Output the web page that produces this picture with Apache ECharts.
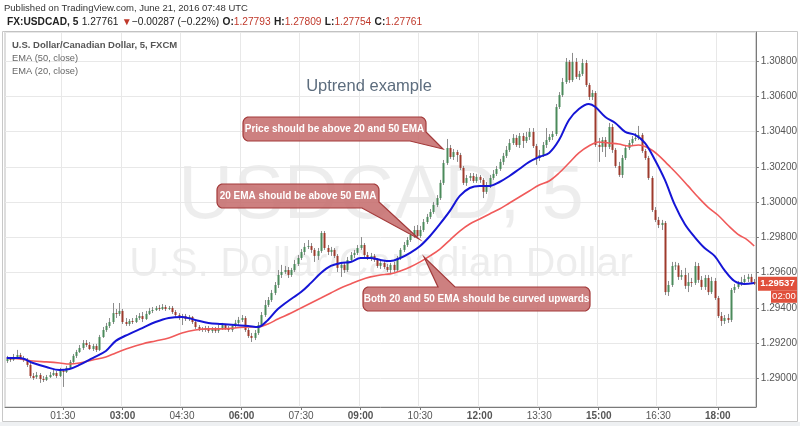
<!DOCTYPE html>
<html><head><meta charset="utf-8">
<script src="https://cdn.jsdelivr.net/npm/echarts@6/dist/echarts.min.js"></script>
<style>html,body{margin:0;padding:0;background:#fff;}#c{width:800px;height:426px;}</style>
</head><body><div id="c"></div>
<script>
// ---- data (USDCAD 5-minute bars) ----
const firstBarMinute = 5;   // 00:05
const barStepMinutes = 5;
const xTickLabels = ['01:30','03:00','04:30','06:00','07:30','09:00','10:30','12:00','13:30','15:00','16:30','18:00'];

const opens = [1.29099,1.29111,1.29105,1.29122,1.29133,1.29116,1.29105,1.29077,1.29014,1.29008,
1.29020,1.28997,1.28992,1.29008,1.29020,1.29031,1.29014,1.29043,1.29037,1.29060,
1.29094,1.29128,1.29150,1.29173,1.29201,1.29190,1.29167,1.29184,1.29162,1.29235,
1.29275,1.29298,1.29320,1.29371,1.29366,1.29383,1.29320,1.29309,1.29326,1.29320,
1.29343,1.29354,1.29337,1.29366,1.29383,1.29388,1.29400,1.29394,1.29405,1.29394,
1.29400,1.29377,1.29360,1.29349,1.29354,1.29337,1.29349,1.29320,1.29292,1.29281,
1.29275,1.29286,1.29269,1.29281,1.29269,1.29286,1.29303,1.29286,1.29275,1.29298,
1.29315,1.29332,1.29343,1.29275,1.29241,1.29230,1.29258,1.29303,1.29360,1.29417,
1.29445,1.29485,1.29530,1.29587,1.29604,1.29615,1.29587,1.29615,1.29649,1.29683,
1.29717,1.29746,1.29751,1.29729,1.29695,1.29723,1.29825,1.29740,1.29717,1.29729,
1.29695,1.29627,1.29644,1.29615,1.29672,1.29700,1.29712,1.29740,1.29757,1.29700,
1.29683,1.29695,1.29672,1.29638,1.29655,1.29632,1.29615,1.29644,1.29615,1.29683,
1.29729,1.29757,1.29785,1.29814,1.29842,1.29808,1.29842,1.29887,1.29916,1.29944,
1.29984,1.30023,1.30109,1.30222,1.30307,1.30256,1.30284,1.30267,1.30194,1.30109,
1.30137,1.30148,1.30120,1.30143,1.30126,1.30058,1.30097,1.30137,1.30160,1.30188,
1.30228,1.30262,1.30296,1.30335,1.30364,1.30324,1.30375,1.30347,1.30369,1.30398,
1.30318,1.30250,1.30267,1.30324,1.30352,1.30369,1.30386,1.30539,1.30607,1.30681,
1.30795,1.30692,1.30795,1.30710,1.30727,1.30789,1.30664,1.30596,1.30619,1.30324,
1.30313,1.30352,1.30313,1.30426,1.30296,1.30205,1.30154,1.30250,1.30307,1.30335,
1.30358,1.30364,1.30381,1.30290,1.30250,1.30137,1.29955,1.29899,1.29870,1.29882,
1.29490,1.29530,1.29638,1.29641,1.29576,1.29587,1.29525,1.29547,1.29542,1.29638,
1.29559,1.29519,1.29570,1.29490,1.29553,1.29456,1.29354,1.29326,1.29343,1.29332,
1.29502,1.29519,1.29536,1.29547,1.29564,1.29576,1.29547];

const closes = [1.29111,1.29105,1.29122,1.29133,1.29116,1.29105,1.29077,1.29014,1.29003,1.29020,
1.28997,1.28992,1.29008,1.29020,1.29031,1.29014,1.29043,1.29037,1.29060,1.29094,
1.29128,1.29150,1.29173,1.29201,1.29190,1.29167,1.29184,1.29162,1.29235,1.29275,
1.29298,1.29320,1.29371,1.29366,1.29383,1.29320,1.29309,1.29326,1.29320,1.29343,
1.29354,1.29337,1.29366,1.29383,1.29388,1.29400,1.29394,1.29405,1.29394,1.29400,
1.29377,1.29360,1.29349,1.29354,1.29337,1.29349,1.29320,1.29292,1.29281,1.29275,
1.29286,1.29269,1.29281,1.29269,1.29286,1.29303,1.29286,1.29275,1.29298,1.29315,
1.29332,1.29343,1.29275,1.29241,1.29230,1.29258,1.29303,1.29360,1.29417,1.29445,
1.29485,1.29530,1.29587,1.29604,1.29615,1.29587,1.29615,1.29649,1.29683,1.29717,
1.29746,1.29751,1.29729,1.29695,1.29723,1.29825,1.29740,1.29717,1.29729,1.29695,
1.29627,1.29644,1.29615,1.29672,1.29700,1.29712,1.29740,1.29757,1.29700,1.29683,
1.29695,1.29672,1.29638,1.29655,1.29632,1.29615,1.29644,1.29615,1.29683,1.29729,
1.29757,1.29785,1.29814,1.29842,1.29808,1.29842,1.29887,1.29916,1.29944,1.29984,
1.30023,1.30109,1.30222,1.30307,1.30256,1.30284,1.30267,1.30194,1.30109,1.30137,
1.30148,1.30120,1.30143,1.30126,1.30058,1.30097,1.30137,1.30160,1.30188,1.30228,
1.30262,1.30296,1.30335,1.30364,1.30324,1.30375,1.30347,1.30369,1.30398,1.30318,
1.30250,1.30267,1.30324,1.30352,1.30369,1.30386,1.30539,1.30607,1.30681,1.30795,
1.30692,1.30795,1.30710,1.30727,1.30789,1.30664,1.30596,1.30619,1.30324,1.30313,
1.30352,1.30313,1.30426,1.30296,1.30205,1.30154,1.30250,1.30307,1.30335,1.30358,
1.30364,1.30381,1.30290,1.30250,1.30137,1.29955,1.29899,1.29870,1.29882,1.29490,
1.29530,1.29638,1.29641,1.29576,1.29587,1.29525,1.29547,1.29542,1.29638,1.29559,
1.29519,1.29570,1.29490,1.29553,1.29456,1.29354,1.29326,1.29343,1.29332,1.29502,
1.29519,1.29536,1.29547,1.29564,1.29576,1.29547,1.29537];

const lows = [1.29088,1.29094,1.29099,1.29116,1.29105,1.29094,1.29065,1.29003,1.28992,1.28997,
1.28975,1.28980,1.28986,1.29003,1.29014,1.29003,1.29008,1.28952,1.29031,1.29054,
1.29088,1.29116,1.29145,1.29162,1.29179,1.29162,1.29156,1.29150,1.29156,1.29230,
1.29264,1.29286,1.29309,1.29343,1.29354,1.29309,1.29298,1.29298,1.29309,1.29315,
1.29332,1.29320,1.29332,1.29360,1.29371,1.29383,1.29383,1.29388,1.29383,1.29388,
1.29366,1.29349,1.29332,1.29303,1.29326,1.29326,1.29309,1.29281,1.29269,1.29264,
1.29264,1.29258,1.29258,1.29258,1.29258,1.29275,1.29275,1.29264,1.29264,1.29286,
1.29303,1.29320,1.29264,1.29230,1.29207,1.29218,1.29247,1.29292,1.29349,1.29405,
1.29434,1.29473,1.29513,1.29570,1.29593,1.29570,1.29576,1.29604,1.29638,1.29672,
1.29700,1.29734,1.29712,1.29661,1.29672,1.29712,1.29729,1.29700,1.29695,1.29683,
1.29604,1.29576,1.29598,1.29604,1.29661,1.29683,1.29700,1.29729,1.29689,1.29672,
1.29666,1.29661,1.29627,1.29621,1.29621,1.29604,1.29598,1.29604,1.29604,1.29672,
1.29717,1.29746,1.29774,1.29797,1.29797,1.29797,1.29831,1.29876,1.29904,1.29933,
1.29972,1.30012,1.30097,1.30211,1.30245,1.30239,1.30228,1.30182,1.30097,1.30092,
1.30120,1.30109,1.30109,1.30109,1.30023,1.30046,1.30080,1.30126,1.30148,1.30177,
1.30211,1.30250,1.30284,1.30324,1.30313,1.30307,1.30307,1.30335,1.30352,1.30307,
1.30211,1.30233,1.30256,1.30307,1.30341,1.30352,1.30375,1.30528,1.30596,1.30670,
1.30676,1.30681,1.30698,1.30692,1.30715,1.30653,1.30579,1.30579,1.30313,1.30228,
1.30284,1.30256,1.30301,1.30279,1.30194,1.30143,1.30137,1.30239,1.30296,1.30324,
1.30347,1.30352,1.30279,1.30239,1.30126,1.29944,1.29887,1.29853,1.29842,1.29473,
1.29468,1.29519,1.29615,1.29559,1.29559,1.29508,1.29490,1.29519,1.29530,1.29542,
1.29502,1.29502,1.29473,1.29479,1.29445,1.29343,1.29298,1.29309,1.29315,1.29320,
1.29485,1.29508,1.29525,1.29536,1.29547,1.29536,1.29530];

const highs = [1.29128,1.29122,1.29139,1.29162,1.29145,1.29128,1.29116,1.29088,1.29031,1.29037,
1.29031,1.29014,1.29020,1.29037,1.29048,1.29043,1.29060,1.29054,1.29071,1.29105,
1.29139,1.29162,1.29190,1.29218,1.29218,1.29207,1.29196,1.29196,1.29247,1.29292,
1.29315,1.29343,1.29428,1.29394,1.29428,1.29394,1.29343,1.29337,1.29343,1.29360,
1.29371,1.29377,1.29383,1.29400,1.29405,1.29411,1.29417,1.29422,1.29417,1.29411,
1.29411,1.29388,1.29371,1.29366,1.29366,1.29360,1.29354,1.29332,1.29303,1.29292,
1.29298,1.29298,1.29292,1.29292,1.29303,1.29315,1.29309,1.29298,1.29309,1.29332,
1.29349,1.29360,1.29354,1.29286,1.29258,1.29275,1.29320,1.29377,1.29445,1.29462,
1.29502,1.29547,1.29615,1.29644,1.29638,1.29632,1.29627,1.29672,1.29700,1.29734,
1.29768,1.29785,1.29768,1.29740,1.29740,1.29836,1.29836,1.29757,1.29746,1.29740,
1.29706,1.29661,1.29655,1.29689,1.29717,1.29729,1.29757,1.29802,1.29768,1.29717,
1.29712,1.29706,1.29683,1.29666,1.29666,1.29649,1.29655,1.29661,1.29695,1.29740,
1.29774,1.29802,1.29831,1.29865,1.29870,1.29865,1.29904,1.29933,1.29961,1.30001,
1.30040,1.30126,1.30239,1.30358,1.30324,1.30301,1.30296,1.30279,1.30205,1.30154,
1.30165,1.30165,1.30160,1.30154,1.30137,1.30114,1.30154,1.30182,1.30205,1.30245,
1.30279,1.30318,1.30358,1.30386,1.30381,1.30392,1.30392,1.30398,1.30420,1.30420,
1.30330,1.30296,1.30341,1.30420,1.30386,1.30403,1.30556,1.30624,1.30704,1.30817,
1.30806,1.30846,1.30817,1.30744,1.30812,1.30806,1.30676,1.30636,1.30630,1.30364,
1.30369,1.30369,1.30449,1.30443,1.30307,1.30228,1.30267,1.30324,1.30352,1.30375,
1.30392,1.30432,1.30392,1.30301,1.30262,1.30148,1.29972,1.29916,1.29899,1.29893,
1.29553,1.29661,1.29661,1.29655,1.29615,1.29627,1.29598,1.29570,1.29661,1.29655,
1.29581,1.29587,1.29587,1.29576,1.29570,1.29468,1.29377,1.29360,1.29366,1.29513,
1.29536,1.29553,1.29576,1.29587,1.29593,1.29593,1.29564];

const ema20Points = [[0,1.29116],[4,1.29116],[8,1.29088],[12,1.29065],[16,1.29048],[19,1.29054],[22,1.29077],[26,1.29116],[30,1.29156],[33,1.29213],[37,1.29252],[41,1.29286],[45,1.29320],[49,1.29343],[53,1.29349],[57,1.29332],[61,1.29315],[65,1.29309],[69,1.29303],[73,1.29298],[76,1.29292],[79,1.29332],[82,1.29394],[86,1.29451],[89,1.29490],[92,1.29542],[95,1.29598],[98,1.29638],[101,1.29655],[104,1.29661],[107,1.29683],[110,1.29683],[113,1.29672],[116,1.29666],[119,1.29683],[122,1.29712],[125,1.29751],[128,1.29808],[131,1.29876],[134,1.29950],[137,1.30035],[140,1.30080],[143,1.30092],[146,1.30092],[149,1.30114],[152,1.30148],[155,1.30188],[158,1.30228],[161,1.30256],[164,1.30279],[167,1.30352],[170,1.30466],[173,1.30528],[176,1.30556],[178,1.30539],[181,1.30483],[184,1.30449],[187,1.30398],[190,1.30381],[193,1.30335],[196,1.30239],[199,1.30126],[202,1.29984],[205,1.29876],[208,1.29802],[211,1.29740],[214,1.29695],[217,1.29615],[220,1.29553],[223,1.29536],[226,1.29542]];
const ema50Points = [[0,1.29116],[4,1.29111],[8,1.29099],[12,1.29094],[16,1.29088],[19,1.29082],[22,1.29088],[26,1.29105],[30,1.29122],[33,1.29145],[37,1.29173],[41,1.29196],[45,1.29213],[49,1.29230],[53,1.29258],[57,1.29275],[61,1.29281],[65,1.29281],[69,1.29286],[73,1.29292],[76,1.29292],[79,1.29309],[82,1.29337],[86,1.29371],[89,1.29400],[92,1.29428],[95,1.29456],[98,1.29485],[101,1.29513],[104,1.29536],[107,1.29559],[110,1.29576],[113,1.29587],[116,1.29593],[119,1.29610],[122,1.29632],[125,1.29661],[128,1.29695],[131,1.29734],[134,1.29785],[137,1.29836],[140,1.29876],[143,1.29904],[146,1.29933],[149,1.29961],[152,1.29995],[155,1.30029],[158,1.30063],[161,1.30097],[164,1.30120],[167,1.30165],[170,1.30222],[173,1.30279],[176,1.30318],[179,1.30341],[182,1.30335],[185,1.30330],[188,1.30318],[191,1.30324],[194,1.30307],[197,1.30267],[200,1.30211],[203,1.30154],[206,1.30092],[209,1.30029],[212,1.29972],[215,1.29927],[218,1.29870],[221,1.29819],[224,1.29785],[226,1.29751]];

const yMin = 1.288383, yMax = 1.309646;

// ---- build ----
function pad(n){ return (n<10?'0':'')+n; }
const categories = opens.map((_, i) => { const m = firstBarMinute + i*barStepMinutes; return pad(Math.floor(m/60)) + ':' + pad(m%60); });
const barRows = opens.map((o, i) => [i, o, closes[i], lows[i], highs[i]]);
const toCat = pts => pts.map(p => [categories[p[0]], p[1]]);
const isTick = (idx) => xTickLabels.indexOf(categories[idx]) >= 0;

const UP = '#4b8a5b', DOWN = '#9e3a2c', WICK = '#8c8c8c';
const FONT = '"Liberation Sans", Arial, sans-serif';
const chart = echarts.init(document.getElementById('c'), null, {renderer:'canvas'});

function arc(cx, cy, r, a0, a1){
  const pts = [];
  for (let k = 0; k <= 6; k++){
    const a = (a0 + (a1 - a0) * k / 6) * Math.PI / 180;
    pts.push([cx + r * Math.cos(a), cy + r * Math.sin(a)]);
  }
  return pts;
}
function bubble(points, text, tx, ty){
  return [
    {type:'polygon', z:100, shape:{points:points}, style:{fill:'rgba(196,106,106,0.85)', stroke:'#a33a3a', lineWidth:1.2}},
    {type:'text', z:101, x:tx, y:ty, style:{text:text, fill:'#fff', font:'600 10px '+FONT, textAlign:'center', textVerticalAlign:'middle'}}
  ];
}
const b1 = [].concat(arc(249,123,6,180,270), arc(420,123,6,270,360), [[426,132],[443,149],[410,141]], arc(249,135,6,90,180));
const b2 = [].concat(arc(223,190,6,180,270), arc(373,190,6,270,360), [[379,202],[419,239],[362,208]], arc(223,202,6,90,180));
const b3 = [].concat(arc(369,293,6,180,270), [[438,287],[424,257],[455,287]], arc(584,293,6,270,360), arc(584,305,6,0,90), arc(369,305,6,90,180));

const graphics = [
  {type:'rect', z:-10, shape:{x:0,y:422,width:800,height:4}, style:{fill:'#eef0f2'}},
  {type:'rect', z:-9, shape:{x:2.5,y:31.5,width:795,height:390}, style:{fill:'none', stroke:'#c8c8c8', lineWidth:1}},
  {type:'text', x:4, y:8, style:{text:'Published on TradingView.com, June 21, 2016 07:48 UTC', fill:'#333', font:'9.5px '+FONT, textVerticalAlign:'middle'}},
  {type:'text', x:7, y:22, style:{
    text:'{b|FX:USDCAD, 5} {n|1.27761} {r|▼}{n|−0.00287 (−0.22%)} {b|O:}{r|1.27793} {b|H:}{r|1.27809} {b|L:}{r|1.27754} {b|C:}{r|1.27761}',
    textVerticalAlign:'middle',
    rich:{
      b:{fontWeight:'bold', fill:'#222', fontSize:10.2, fontFamily:FONT},
      n:{fill:'#222', fontSize:10.2, fontFamily:FONT},
      r:{fill:'#c0392b', fontSize:10.2, fontFamily:FONT}
    }
  }},
  {type:'text', x:12, y:45, style:{text:'U.S. Dollar/Canadian Dollar, 5, FXCM', fill:'#555', font:'bold 9.5px '+FONT, textVerticalAlign:'middle'}},
  {type:'text', x:12, y:58, style:{text:'EMA (50, close)', fill:'#666', font:'9.3px '+FONT, textVerticalAlign:'middle'}},
  {type:'text', x:12, y:71, style:{text:'EMA (20, close)', fill:'#666', font:'9.3px '+FONT, textVerticalAlign:'middle'}},
  {type:'text', z:-5, x:381, y:197, style:{text:'USDCAD, 5', fill:'rgba(0,0,0,0.07)', font:'76px '+FONT, textAlign:'center', textVerticalAlign:'middle'}},
  {type:'text', z:-5, x:381, y:265, style:{text:'U.S. Dollar/Canadian Dollar', fill:'rgba(0,0,0,0.07)', font:'41px '+FONT, textAlign:'center', textVerticalAlign:'middle'}},
  {type:'text', x:369, y:86, style:{text:'Uptrend example', fill:'#5d6d7e', font:'16.5px '+FONT, textAlign:'center', textVerticalAlign:'middle'}}
].concat(
  bubble(b1, 'Price should be above 20 and 50 EMA', 334.5, 129),
  bubble(b2, '20 EMA should be above 50 EMA', 298, 196),
  bubble(b3, 'Both 20 and 50 EMA should be curved upwards', 476.5, 299)
);

function renderCandle(params, api){
  const i = api.value(0);
  const o = api.value(1), c = api.value(2), l = api.value(3), h = api.value(4);
  const pO = api.coord([i, o]), pC = api.coord([i, c]), pL = api.coord([i, l]), pH = api.coord([i, h]);
  const x = Math.round(pO[0]);
  const top = Math.min(pO[1], pC[1]), bot = Math.max(pO[1], pC[1]);
  return {type:'group', children:[
    {type:'line', shape:{x1:x+0.5, y1:pH[1], x2:x+0.5, y2:pL[1]}, style:{stroke:WICK, lineWidth:1}},
    {type:'rect', shape:{x:x-0.5, y:top, width:2, height:Math.max(1, bot-top)}, style:{fill: c >= o ? UP : DOWN}}
  ]};
}

chart.setOption({
  animation:false,
  backgroundColor:'#ffffff',
  grid:{left:5, right:43, top:32, bottom:19, show:true, borderColor:'#bdbdbd', borderWidth:1},
  xAxis:{
    type:'category', data:categories, boundaryGap:true,
    axisLine:{show:true, lineStyle:{color:'#7a7a7a', width:1}},
    axisTick:{show:true, alignWithLabel:true, interval:isTick, length:3, lineStyle:{color:'#7a7a7a'}},
    axisLabel:{interval:isTick, margin:4, fontSize:10, fontFamily:FONT, color:'#555',
      formatter:v => v.endsWith(':00') ? '{b|'+v+'}' : v, rich:{b:{fontWeight:'bold', fontSize:10, fontFamily:FONT, color:'#555'}}},
    splitLine:{show:true, interval:isTick, lineStyle:{color:'#e8e8e8', width:1}}
  },
  yAxis:{
    type:'value', position:'right', min:yMin, max:yMax, scale:true, splitNumber:10, minInterval:0.002, maxInterval:0.002,
    axisLine:{show:true, lineStyle:{color:'#7a7a7a', width:1}},
    axisTick:{show:true, length:3, lineStyle:{color:'#7a7a7a'}},
    axisLabel:{margin:5, fontSize:10, fontFamily:FONT, color:'#555', formatter:v => v.toFixed(5),
      showMinLabel:false, showMaxLabel:false},
    splitLine:{show:true, lineStyle:{color:'#e8e8e8', width:1}}
  },
  series:[
    {type:'custom', name:'USDCAD', data:barRows, renderItem:renderCandle, encode:{x:0, y:[1,2,3,4]}, clip:true},
    {type:'line', name:'EMA (50, close)', data:toCat(ema50Points), smooth:0.35, showSymbol:false,
     lineStyle:{color:'#f05a5a', width:1.6}},
    {type:'line', name:'EMA (20, close)', data:toCat(ema20Points), smooth:0.35, showSymbol:false,
     lineStyle:{color:'#1515d6', width:2}}
  ],
  graphic:graphics
});

// last price label on the price scale
const lastClose = closes[closes.length-1];
const ly = chart.convertToPixel({yAxisIndex:0}, lastClose);
chart.setOption({graphic: graphics.concat([
  {type:'rect', z:110, shape:{x:758, y:ly-7, width:39, height:14}, style:{fill:'#e0503c'}},
  {type:'text', z:111, x:777.5, y:ly, style:{text:lastClose.toFixed(5), fill:'#fff', font:'bold 9.5px '+FONT, textAlign:'center', textVerticalAlign:'middle'}},
  {type:'rect', z:110, shape:{x:771, y:ly+7, width:26, height:12}, style:{fill:'#e0503c'}},
  {type:'text', z:111, x:784, y:ly+13, style:{text:'02:00', fill:'#fff', font:'9.5px '+FONT, textAlign:'center', textVerticalAlign:'middle'}}
])}, {replaceMerge:['graphic']});
</script></body></html>
